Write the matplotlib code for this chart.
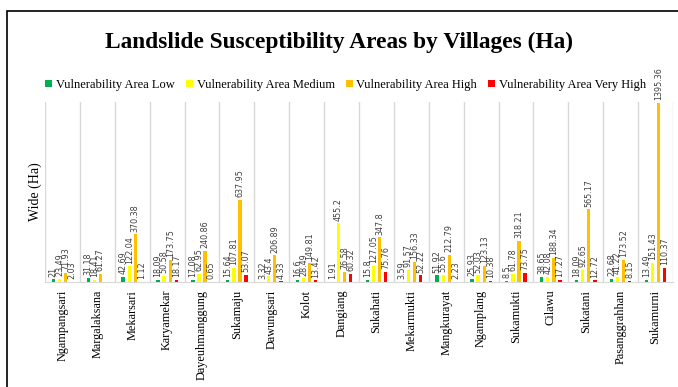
import numpy as np
import matplotlib
matplotlib.use('Agg')
import matplotlib.pyplot as plt
from matplotlib.patches import Rectangle

# Datos
villages = ['Ngampangsari', 'Margalaksana', 'Mekarsari', 'Karyamekar', 'Dayeuhmanggung',
            'Sukamaju', 'Dawungsari', 'Kolot', 'Dangiang', 'Sukahati', 'Mekarmukti',
            'Mangkurayat', 'Ngamplang', 'Sukamukti', 'Cilawu', 'Sukatani',
            'Pasanggrahhan', 'Sukamurni']
low = [21, 31.18, 42.69, 18.09, 17.08, 15.64, 3.32, 16.6, 1.91, 15.8, 3.59,
       51.92, 25.93, 8.5, 38.65, 18.09, 22.68, 13.49]
medium = [23.49, 18.41, 122.04, 50.58, 62.95, 107.81, 43.4, 28.49, 455.2, 127.05, 91.57,
          55.6, 52.03, 61.78, 42.08, 92.65, 41.22, 151.43]
high = [71.93, 61.27, 370.38, 173.75, 240.86, 637.95, 206.89, 149.81, 76.58, 347.8, 156.33,
        212.79, 123.13, 318.21, 188.34, 565.17, 173.52, 1395.36]
very_high = [2.03, np.nan, 1.12, 18.17, 0.65, 53.07, 4.33, 13.42, 60.32, 75.76, 52.22,
             2.23, 10.38, 73.75, 17.27, 12.72, 8.15, 110.37]

series = [
    ('Vulnerability Area Low', low, '#00B050'),
    ('Vulnerability Area Medium', medium, '#FFFF00'),
    ('Vulnerability Area High', high, '#FFC000'),
    ('Vulnerability Area Very High', very_high, '#FF0000'),
]

serif = ['Liberation Serif', 'DejaVu Serif']

fig = plt.figure(figsize=(6.78, 3.87), dpi=100)
ax = fig.add_axes([0.0664, 0.2713, 0.9262, 0.4651])

x = np.arange(len(villages))
step = 0.175
width = 0.095

for k, (name, vals, color) in enumerate(series):
    vals = np.array(vals, dtype=float)
    bars = ax.bar(x + (k - 1.5) * step, np.nan_to_num(vals), width, color=color,
                  label=name, zorder=3)
    labels = ['' if np.isnan(v) else f'{v:g}' for v in vals]
    ax.bar_label(bars, labels=labels, rotation=90, padding=2, fontsize=5.8,
                 color='#404040', clip_on=False)

ax.set_xlim(-0.5, len(villages) - 0.5)
ax.set_ylim(0, 1400)
ax.set_yticks([])
ax.set_xticks(x)
ax.set_xticklabels(villages, rotation=90, family=serif, fontsize=8.8)
ax.tick_params(axis='x', length=0, pad=5.5)

# Lineas verticales entre categorias
ax.set_xticks(np.arange(len(villages) + 1) - 0.5, minor=True)
ax.tick_params(axis='x', which='minor', length=0)
ax.grid(axis='x', which='minor', color='#D9D9D9', linewidth=1, zorder=0)
ax.grid(axis='x', which='major', visible=False)

for s in ['top', 'right', 'left']:
    ax.spines[s].set_visible(False)
ax.spines['bottom'].set_color('#D9D9D9')

ax.set_ylabel('Wide (Ha)', family=serif, fontsize=10)
ax.yaxis.set_label_coords(-0.005, 0.5)

fig.text(0.5, 0.89, 'Landslide Susceptibility Areas by Villages (Ha)', ha='center',
         va='center', family=serif, fontsize=16.8, fontweight='bold')

fig.legend(loc='center', bbox_to_anchor=(0.51, 0.78), ncol=4, frameon=False,
           prop={'family': serif, 'size': 9}, handlelength=0.55, handleheight=0.55,
           handletextpad=0.3, columnspacing=0.9, borderaxespad=0)

# Marco negro de la figura
fig.patches.append(Rectangle((7, -10), 700, 387 - 11 + 10, transform=None,
                             fill=False, edgecolor='black', linewidth=1.2))

fig.savefig('out.png', dpi=100)
